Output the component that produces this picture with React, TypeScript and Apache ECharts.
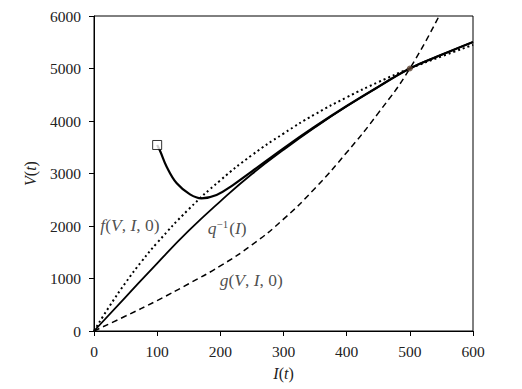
import React, { useEffect, useRef } from "react";
import * as echarts from "echarts";

// f(V, I, 0) — dotted
const fI = [0, 25, 50, 75, 100, 150, 200, 250, 300, 350, 400, 450, 500, 550, 600];
const fV = [0, 480, 920, 1320, 1680, 2320, 2870, 3350, 3760, 4130, 4450, 4740, 5000, 5230, 5450];

// q^-1(I) — solid
const qI = [0, 50, 100, 150, 200, 250, 300, 350, 400, 450, 500, 550, 600];
const qV = [0, 645, 1290, 1910, 2470, 2990, 3450, 3880, 4280, 4650, 5000, 5260, 5505];

// g(V, I, 0) — dashed
const gI = [0, 50, 100, 150, 200, 250, 300, 350, 400, 450, 500, 550];
const gV = [0, 285, 580, 900, 1240, 1640, 2130, 2720, 3400, 4150, 5000, 6090];

// trajectory — thick solid
const tI = [100, 105, 115, 131, 152, 170, 194, 220, 250, 300, 350, 400, 450, 500, 550, 600];
const tV = [3543, 3420, 3130, 2813, 2603, 2527, 2590, 2780, 3040, 3480, 3895, 4285, 4650, 5000, 5260, 5505];

// markers
const startPoint = [100, 3543];
const equilibrium = [500, 5000];

// annotations
const labelI = [10, 180, 199];
const labelV = [2020, 1965, 975];
const labelText = [
  "{i|f}({i|V}, {i|I}, 0)",
  "{i|q}{s|−1}({i|I})",
  "{i|g}({i|V}, {i|I}, 0)",
];

const xTicks = [0, 100, 200, 300, 400, 500, 600];
const yTicks = [0, 1000, 2000, 3000, 4000, 5000, 6000];

const FONT = "Liberation Serif";
const LABEL_SIZE = 17.5;

const zip = (a: number[], b: number[]) => a.map((v, i) => [v, b[i]]);

export default function App() {
  const ref = useRef<HTMLDivElement>(null);
  useEffect(() => {
    if (!ref.current) return;
    const chart = echarts.init(ref.current, undefined, { renderer: "svg" });
    const rich = {
      i: { fontStyle: "italic", fontFamily: FONT, fontSize: LABEL_SIZE, color: "#222" },
      s: { fontFamily: FONT, fontSize: 11, color: "#222", verticalAlign: "top", padding: [0, 1, 7, 0] },
    };
    const titleRich = { i: { fontStyle: "italic", fontFamily: FONT, fontSize: 16, color: "#222" } };
    chart.setOption({
      animation: false,
      grid: {
        left: 94,
        right: 49,
        top: 16,
        bottom: 58,
        show: true,
        borderColor: "#000",
        borderWidth: 1,
        backgroundColor: "transparent",
      },
      xAxis: {
        type: "value",
        min: xTicks[0],
        max: xTicks[xTicks.length - 1],
        interval: 100,
        name: "{i|I}({i|t})",
        nameLocation: "middle",
        nameGap: 34,
        nameTextStyle: { fontFamily: FONT, fontSize: 16, color: "#222", rich: titleRich },
        axisLine: { show: true, onZero: false, lineStyle: { color: "#000", width: 1 } },
        axisTick: { show: true, inside: false, length: 5, lineStyle: { color: "#000" } },
        axisLabel: { margin: 12, fontFamily: FONT, fontSize: 15.5, color: "#222", formatter: (v: number) => String(v) },
        splitLine: { show: false },
      },
      yAxis: {
        type: "value",
        min: yTicks[0],
        max: yTicks[yTicks.length - 1],
        interval: 1000,
        name: "{i|V}({i|t})",
        nameLocation: "middle",
        nameGap: 56,
        nameTextStyle: { fontFamily: FONT, fontSize: 16, color: "#222", rich: titleRich },
        axisLine: { show: true, onZero: false, lineStyle: { color: "#000", width: 1 } },
        axisTick: { show: true, inside: false, length: 5, lineStyle: { color: "#000" } },
        axisLabel: { margin: 13, fontFamily: FONT, fontSize: 15.5, color: "#222", formatter: (v: number) => String(v) },
        splitLine: { show: false },
      },
      series: [
        {
          type: "line",
          data: zip(fI, fV),
          smooth: true,
          showSymbol: false,
          lineStyle: { color: "#000", width: 2, type: [2, 3] },
        },
        {
          type: "line",
          data: zip(gI, gV),
          smooth: true,
          showSymbol: false,
          clip: true,
          lineStyle: { color: "#000", width: 1.5, type: [6, 4] },
        },
        {
          type: "line",
          data: zip(qI, qV),
          smooth: true,
          showSymbol: false,
          lineStyle: { color: "#000", width: 1.8 },
        },
        {
          type: "line",
          data: zip(tI, tV),
          smooth: 0.4,
          showSymbol: false,
          lineStyle: { color: "#000", width: 2.2 },
        },
        {
          type: "scatter",
          data: [equilibrium],
          symbol: "circle",
          symbolSize: 6,
          itemStyle: { color: "#5a4030" },
          z: 5,
        },
        {
          type: "scatter",
          data: [startPoint],
          symbol: "rect",
          symbolSize: 9,
          itemStyle: { color: "#fff", borderColor: "#000", borderWidth: 1 },
          z: 6,
        },
        {
          type: "scatter",
          symbolSize: 0,
          data: labelI.map((x, i) => ({
            value: [x, labelV[i]],
            label: {
              show: true,
              position: "right",
              distance: 0,
              formatter: labelText[i],
              fontFamily: FONT,
              fontSize: LABEL_SIZE,
              color: "#222",
              rich,
            },
          })),
          z: 7,
        },
      ],
    });
    return () => chart.dispose();
  }, []);
  return <div ref={ref} style={{ position: "absolute", left: 0, top: 0, width: 522, height: 389 }} />;
}
